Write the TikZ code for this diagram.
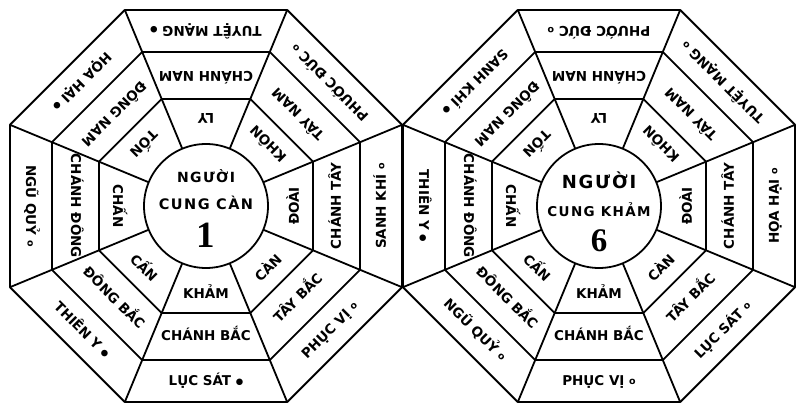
\documentclass[tikz,border=0pt]{standalone}
\usepackage{fontspec}
\setmainfont{DejaVu Sans}
\newfontfamily\chutam[LetterSpace=10]{DejaVu Sans}
\newfontfamily\chuso{Liberation Serif}
\usepackage{tikz}
\usetikzlibrary{calc}
\newcommand{\chamden}{\ \raisebox{1.6pt}{\fontsize{8.5}{8.5}\selectfont ●}}
\newcommand{\chamtrang}{\ \raisebox{1.6pt}{\fontsize{9.5}{9.5}\selectfont\bfseries o}}
\tikzset{
  bqnet/.style={draw=black, line width=1.8pt, line join=round},
  bqchu/.style={font=\bfseries\fontsize{13.5}{13.5}\selectfont, inner sep=0pt, text height=9.8pt, text depth=0pt},
  bqtam/.style={font=\chutam\bfseries\fontsize{14.5}{14.5}\selectfont, inner sep=0pt},
  bqso/.style={font=\chuso\bfseries\fontsize{37}{37}\selectfont, inner sep=0pt},
}
\begin{document}
\begin{tikzpicture}[x=1pt,y=1pt]
  \useasboundingbox (0,0) rectangle (796,404);
  % ---------------- bat quai trai: nguoi cung Can ----------------
  \begin{scope}[shift={(206,198)}]
    \draw[bqnet] (0,0) circle (62);
    \foreach \r in {115.8,166.7,212.2}
      {\draw[bqnet] (22.5:\r) \foreach \goc in {67.5,112.5,...,337.5} {-- (\goc:\r)} -- cycle;}
    \foreach \goc in {22.5,67.5,...,337.5} {\draw[bqnet] (\goc:62) -- (\goc:212.2);}
    \node[bqtam, font=\chutam\bfseries\fontsize{14}{14}\selectfont, anchor=base] (Lnguoi) at (0,23) {NGƯỜI};
    \node[bqtam, anchor=base] (Lcung) at (0,-4) {CUNG CÀN};
    \node[bqso, anchor=base] (Lso) at (0,-42) {1};
    \foreach \goc/\que/\huong/\sao [count=\i] in {
        -90/KHẢM/CHÁNH BẮC/LỤC SÁT\chamden,
        -45/CÀN/TÂY BẮC/PHỤC VỊ\chamtrang,
        0/ĐOÀI/CHÁNH TÂY/SANH KHÍ\chamtrang,
        45/KHÔN/TÂY NAM/PHƯỚC ĐỨC\chamtrang,
        90/LY/CHÁNH NAM/TUYỆT MẠNG\chamden,
        135/TỐN/ĐÔNG NAM/HỌA HẠI\chamden,
        180/CHẤN/CHÁNH ĐÔNG/NGŨ QUỶ\chamtrang,
        225/CẤN/ĐÔNG BẮC/THIÊN Y\chamden} {
      \node[bqchu, rotate=\goc+90] (Lque\i) at (\goc:88) {\que};
      \node[bqchu, rotate=\goc+90] (Lhuong\i) at (\goc:130) {\huong};
      \node[bqchu, rotate=\goc+90] (Lsao\i) at (\goc:175) {\sao};
    }
  \end{scope}
  % ---------------- bat quai phai: nguoi cung Kham ----------------
  \begin{scope}[shift={(599,198)}]
    \draw[bqnet] (0,0) circle (62);
    \foreach \r in {115.8,166.7,212.2}
      {\draw[bqnet] (22.5:\r) \foreach \goc in {67.5,112.5,...,337.5} {-- (\goc:\r)} -- cycle;}
    \foreach \goc in {22.5,67.5,...,337.5} {\draw[bqnet] (\goc:62) -- (\goc:212.2);}
    \node[bqtam, font=\chutam\bfseries\fontsize{18}{18}\selectfont, anchor=base] (Rnguoi) at (0,17) {NGƯỜI};
    \node[bqtam, font=\chutam\bfseries\fontsize{13.5}{13.5}\selectfont, anchor=base] (Rcung) at (0,-11) {CUNG KHẢM};
    \node[bqso, font=\chuso\bfseries\fontsize{33}{33}\selectfont, anchor=base] (Rso) at (0,-46) {6};
    \foreach \goc/\que/\huong/\sao [count=\i] in {
        -90/KHẢM/CHÁNH BẮC/PHỤC VỊ\chamtrang,
        -45/CÀN/TÂY BẮC/LỤC SÁT\chamtrang,
        0/ĐOÀI/CHÁNH TÂY/HỌA HẠI\chamtrang,
        45/KHÔN/TÂY NAM/TUYỆT MẠNG\chamtrang,
        90/LY/CHÁNH NAM/PHƯỚC ĐỨC\chamtrang,
        135/TỐN/ĐÔNG NAM/SANH KHÍ\chamden,
        180/CHẤN/CHÁNH ĐÔNG/THIÊN Y\chamden,
        225/CẤN/ĐÔNG BẮC/NGŨ QUỶ\chamtrang} {
      \node[bqchu, rotate=\goc+90] (Rque\i) at (\goc:88) {\que};
      \node[bqchu, rotate=\goc+90] (Rhuong\i) at (\goc:130) {\huong};
      \node[bqchu, rotate=\goc+90] (Rsao\i) at (\goc:175) {\sao};
    }
  \end{scope}
\end{tikzpicture}
\end{document}
